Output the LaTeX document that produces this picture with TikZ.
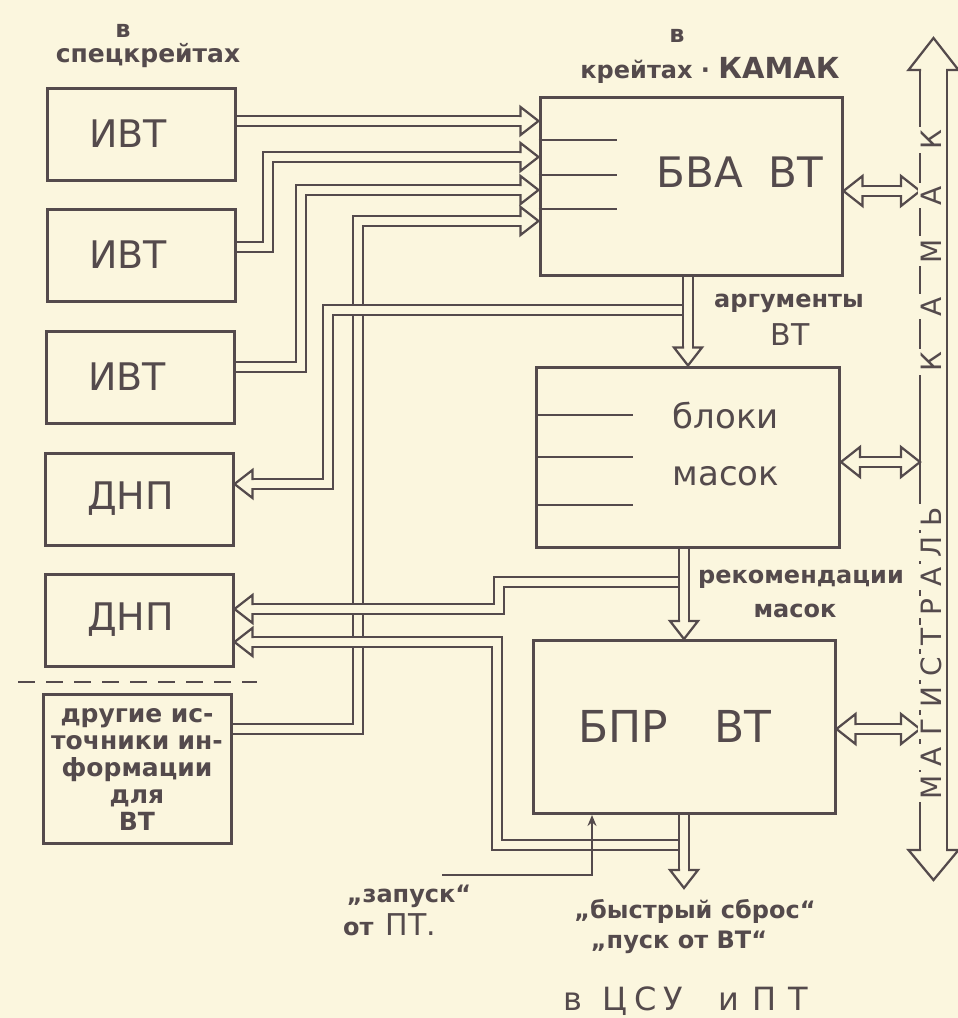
\documentclass[tikz,border=0pt]{standalone}
\usepackage{fontspec}
\setmainfont{DejaVu Sans}
\usetikzlibrary{positioning,arrows.meta,decorations.markings}

\definecolor{paper}{RGB}{251,246,222}
\definecolor{ink}{RGB}{84,74,76}

\pgfdeclarelayer{paperbg}
\pgfdeclarelayer{wires}
\pgfsetlayers{paperbg,wires,main}

\begin{document}
\begin{tikzpicture}[
  x=1pt, y=-1pt,
  >={Stealth[length=11pt,width=9pt]},
  box/.style={draw=ink, line width=3pt, fill=paper, text=ink},
  srcbox/.style={box, minimum height=92pt, text width=104pt, inner xsep=42pt,
    align=left, font={\fontsize{38}{40}\selectfont}},
  bigbox/.style={box, minimum width=302pt, minimum height=178pt},
  bigtxt/.style={text=ink, inner sep=0pt, anchor=base, font={\fontsize{42}{44}\selectfont}},
  lbl/.style={text=ink, inner sep=0pt, anchor=base, font={\bfseries\fontsize{24}{27}\selectfont}},
  bus/.style={draw=ink, line width=12.5pt, line cap=butt, line join=miter,
    postaction={draw=paper, line width=8pt}},
  magbus/.style={draw=ink, line width=29.5pt, line cap=butt,
    postaction={draw=paper, line width=25pt}},
  headline/.style={draw=ink, fill=paper, line width=2.25pt, line cap=butt, line join=miter,
    shorten >=0pt, shorten <=0pt},
  headend/.style n args={3}{shorten >=#1pt, postaction={decorate, decoration={markings,
    mark=at position 1 with {\filldraw[headline] (-#1,#2) -- (-#1,#3) -- (0,0) -- (-#1,-#3) -- (-#1,-#2);}}}},
  headstart/.style n args={3}{shorten <=#1pt, postaction={decorate, decoration={markings,
    mark=at position 0 with {\filldraw[headline] (#1,#2) -- (#1,#3) -- (0,0) -- (#1,-#3) -- (#1,-#2);}}}},
  fwd/.style={headend={18}{4}{14}},
  twoway/.style={headstart={19}{4}{15}, headend={19}{4}{15}},
  arr/.style={->, draw=ink, line width=2.25pt},
  busletter/.style={text=ink, fill=paper, rotate=90, inner sep=3pt,
    text height=20pt, text depth=0pt, font={\fontsize{28}{28}\selectfont}}
]

\begin{pgfonlayer}{paperbg}
  \fill[paper] (0,0) rectangle (958,1018);
\end{pgfonlayer}
\useasboundingbox (0,0) rectangle (958,1018);

% --- заголовки
\node[lbl] (vspec) at (123,37) {в};
\node[lbl, font={\bfseries\fontsize{25}{27}\selectfont}] (spec) at (148,62) {спецкрейтах};
\node[lbl] (vcam) at (677,42) {в};
\node[lbl] (crates) at (710,78) {крейтах\ ·\ {\fontsize{29}{30}\selectfont КАМАК}};

% --- источники слева
\node[srcbox] (IVT1) at (141,134) {ИВТ};
\node[srcbox] (IVT2) at (141,255) {ИВТ};
\node[srcbox] (IVT3) at (140,377) {ИВТ};
\node[srcbox] (DNP1) at (139,499) {ДНП};
\node[srcbox] (DNP2) at (139,620) {ДНП};
\node[box, minimum width=188pt, minimum height=149pt, text width=180pt, inner xsep=4pt,
  align=center, font={\bfseries\fontsize{25}{27}\selectfont}] (other) at (137,769)
  {другие ис-\\точники ин-\\формации\\для\\ВТ};

\coordinate (dashl) at (18,682);
\coordinate (dashr) at (257,682);
\draw[ink, line width=2.5pt, dash pattern=on 17pt off 11pt] (dashl) -- (dashr);

% --- блоки в крейтах КАМАК
\node[bigbox] (BVA) at (691,186) {};
\node[bigbox, minimum width=303pt, minimum height=180pt] (BM) at (688,457) {};
\node[bigbox, minimum height=173pt] (BPR) at (684,727) {};

\node[bigtxt] (BVAt) at (740,187) {БВА\hspace{26pt}ВТ};
\node[bigtxt, anchor=center, align=center, font={\fontsize{34}{57}\selectfont}] (BMt) at (726,444) {блоки\\масок};
\node[bigtxt, font={\fontsize{44}{46}\selectfont}] (BPRt) at (675,742) {БПР\hspace{46pt}ВТ};

\foreach \yy in {140,175,209}
  \draw[ink, line width=2.5pt] (BVA.west |- 0,\yy) -- ++(78,0);
\foreach \yy in {415,457,505}
  \draw[ink, line width=2.5pt] (BM.west |- 0,\yy) -- ++(98,0);

% --- магистраль
\coordinate (magtop) at (933.5,38);
\coordinate (magbot) at (933.5,880);
\coordinate (magl) at (920,38);
\coordinate (csu) at (684,888);
\coordinate (argtap) at (682,310);
\coordinate (rectap) at (678,582);
\coordinate (outtap) at (678,845);
\coordinate (zapusk) at (442,875);

\begin{pgfonlayer}{wires}
  \draw[magbus, headstart={30}{12.5}{25}, headend={32}{12.5}{25}] (magbot) -- (magtop);

  % входы БВА ВТ
  \draw[bus, fwd] (IVT1.east |- 0,121) -- (BVA.west |- 0,121);
  \draw[bus, fwd] (IVT2.east |- 0,247) -| (268,157) -- (BVA.west |- 0,157);
  \draw[bus, fwd] (IVT3.east |- 0,367) -| (301,190) -- (BVA.west |- 0,190);
  \draw[bus, fwd] (other.east |- 0,729) -| (358,221) -- (BVA.west |- 0,221);

  % БВА -> блоки -> БПР -> ЦСУ
  \draw[bus, fwd] (BVA.south -| BM.north) -- (BM.north);
  \draw[bus, fwd] (BM.south -| BPR.north) -- (BPR.north);
  \draw[bus, fwd] (BPR.south) -- (csu);

  % отводы на ДНП
  \draw[bus, fwd] (argtap) -| (328,484) -- (DNP1.east |- 0,484);
  \draw[bus, fwd] (rectap) -| (499,609) -- (DNP2.east |- 0,609);
  \draw[bus, fwd] (outtap) -| (497,642) -- (DNP2.east |- 0,642);

  % обмен с магистралью
  \draw[bus, twoway] (BVA.east |- 0,191) -- (magl |- 0,191);
  \draw[bus, twoway] (BM.east |- 0,462) -- (magl |- 0,462);
  \draw[bus, twoway] (BPR.east |- 0,729) -- (magl |- 0,729);
\end{pgfonlayer}

\foreach \ch [count=\i] in {М,А,Г,И,С,Т,Р,А,Л,Ь}
  \node[busletter] (mag\i) at (931,{817-30*\i}) {\ch};
\foreach \ch [count=\i] in {К,А,М,А,К}
  \node[busletter] (cam\i) at (931,{417.5-55.5*\i}) {\ch};

% --- запуск от ПТ
\draw[arr] (zapusk) -| (BPR.south -| 592,0);

% --- подписи
\node[lbl] (args) at (789,307) {аргументы};
\node[bigtxt, font={\fontsize{30}{32}\selectfont}] (argsvt) at (790,345) {ВТ};
\node[lbl] (recs) at (801,583) {рекомендации};
\node[lbl] (recm) at (795,617) {масок};
\node[lbl] (zap) at (409,902) {„запуск“};
\node[lbl, anchor=base west] (zapot) at (343,935) {от\hspace{12pt}{\mdseries\fontsize{30}{32}\selectfont ПТ.}};
\node[lbl] (fast) at (695,918) {„быстрый сброс“};
\node[lbl] (pusk) at (679,948) {„пуск от ВТ“};
\node[bigtxt, font={\fontsize{32}{34}\selectfont}] (csutxt) at (686,1010)
  {в\hspace{20pt}Ц\hspace{7pt}С\hspace{7pt}У\hspace{35pt}и\hspace{14pt}П\hspace{12pt}Т};

\end{tikzpicture}
\end{document}
